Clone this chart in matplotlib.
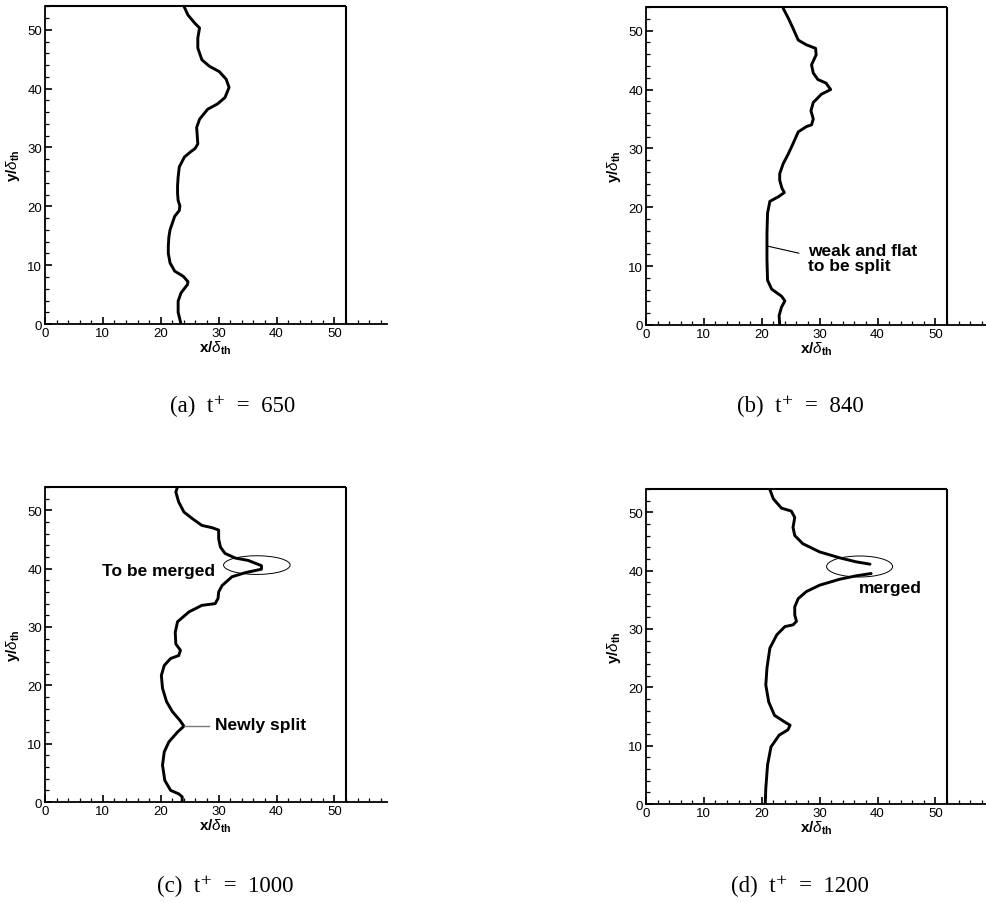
import matplotlib
matplotlib.use("Agg")
import matplotlib.pyplot as plt
from matplotlib.patches import Ellipse
from matplotlib.ticker import MultipleLocator

# ---------------- data ----------------
domain_width = 52
domain_height = 54

# (a) t+ = 650
a_x = [23.5, 23.0, 23.0, 23.5, 24.6, 24.7, 23.9, 22.4, 21.6, 21.3, 21.3, 21.4, 21.6, 22.4,
       23.2, 23.3, 23.0, 22.9, 22.9, 23.0, 23.2, 24.1, 25.2, 25.9, 26.4, 26.3, 26.2, 26.7,
       28.1, 29.8, 31.1, 31.8, 31.3, 30.1, 28.4, 27.1, 26.4, 26.4, 26.7, 25.9, 24.7, 24.0]
a_y = [0.0, 2.0, 3.9, 5.3, 6.7, 7.2, 8.1, 9.0, 10.4, 12.0, 13.2, 14.8, 16.0, 18.3,
       19.3, 20.1, 21.0, 22.2, 23.5, 25.0, 26.7, 28.4, 29.3, 29.8, 30.6, 32.0, 33.4, 34.8,
       36.5, 37.4, 38.5, 40.2, 41.6, 42.9, 43.8, 44.9, 46.9, 48.6, 50.3, 51.1, 52.5, 54.0]

# (b) t+ = 840
b_x = [23.1, 23.0, 23.4, 24.0, 23.4, 21.7, 21.0, 20.9, 20.9, 21.0, 21.4, 22.9, 23.9, 23.5,
       23.1, 23.1, 23.7, 24.6, 25.4, 26.3, 27.7, 28.6, 28.9, 28.5, 28.9, 30.3, 31.9, 31.1,
       29.7, 28.9, 28.6, 29.4, 29.3, 27.7, 26.3, 25.4, 24.6, 23.7]
b_y = [0.0, 1.6, 3.0, 4.1, 4.9, 6.1, 7.6, 11.1, 15.6, 19.0, 21.0, 21.8, 22.5, 23.2,
       24.6, 25.7, 27.4, 29.1, 30.8, 32.8, 33.7, 34.0, 35.0, 36.4, 37.8, 39.2, 40.0, 41.1,
       41.7, 42.8, 44.2, 45.9, 47.0, 47.6, 48.4, 50.4, 52.1, 53.8]

# (c) t+ = 1000
c_x = [23.7, 23.7, 23.1, 21.7, 20.7, 20.3, 20.6, 21.4, 22.9, 24.0, 23.3, 22.0, 21.0, 20.3,
       20.1, 20.6, 21.7, 23.1, 23.4, 22.6, 22.5, 22.9, 24.9, 27.1, 29.4, 29.9, 30.0, 30.6,
       32.3, 34.6, 37.4, 37.4, 35.1, 32.9, 31.1, 30.3, 30.0, 30.0, 28.9, 27.1, 25.4, 24.0,
       23.1, 22.6, 22.9]
c_y = [0.0, 0.9, 1.4, 2.0, 3.7, 6.3, 8.6, 10.3, 12.0, 13.0, 14.0, 15.5, 17.2, 19.5,
       21.7, 23.4, 24.6, 25.1, 26.0, 27.1, 29.1, 30.9, 32.6, 33.7, 34.0, 34.9, 36.0, 37.1,
       38.6, 39.3, 39.9, 40.5, 41.4, 41.8, 42.6, 43.7, 45.1, 46.6, 47.0, 47.4, 48.6, 49.7,
       51.4, 53.1, 54.0]

# (d) t+ = 1200  (two branches that end at the merged tip)
d_lower_x = [20.6, 20.7, 21.0, 21.6, 23.0, 24.5, 24.9, 23.9, 22.2, 21.2, 20.7, 20.9, 21.4,
             22.6, 24.0, 25.4, 26.0, 25.7, 25.7, 26.3, 27.7, 30.0, 33.4, 36.3, 38.9]
d_lower_y = [0.0, 2.7, 6.7, 9.8, 11.8, 12.7, 13.5, 14.1, 15.2, 17.5, 20.4, 23.3, 26.7,
             29.0, 30.4, 30.7, 31.3, 32.4, 33.8, 35.2, 36.4, 37.5, 38.5, 39.1, 39.5]
d_upper_x = [38.7, 36.3, 33.4, 30.0, 27.1, 25.7, 25.4, 25.7, 25.1, 23.4, 22.0, 21.4]
d_upper_y = [41.1, 41.5, 42.2, 43.2, 44.6, 46.0, 47.4, 49.1, 50.2, 50.7, 52.3, 53.9]

captions = ["(a)  t\u207a  =  650", "(b)  t\u207a  =  840",
            "(c)  t\u207a  =  1000", "(d)  t\u207a  =  1200"]
x_ticks = [0, 10, 20, 30, 40, 50]
y_ticks = [0, 10, 20, 30, 40, 50]

# ---------------- style ----------------
plt.rcParams['font.family'] = ['Liberation Sans', 'DejaVu Sans']
plt.rcParams['mathtext.fontset'] = 'custom'
plt.rcParams['mathtext.rm'] = 'Liberation Sans'
plt.rcParams['mathtext.it'] = 'Liberation Sans:italic'
plt.rcParams['mathtext.bf'] = 'Liberation Sans:bold'

fig = plt.figure(figsize=(9.87, 9.03), dpi=100)

positions = {
    'a': [0.0456, 0.640, 0.346, 0.352],
    'b': [0.6545, 0.639, 0.346, 0.352],
    'c': [0.0456, 0.1107, 0.346, 0.349],
    'd': [0.6545, 0.1085, 0.346, 0.349],
}
caption_pos = {'a': (0.236, 0.5504), 'b': (0.8105, 0.5504),
               'c': (0.228, 0.018), 'd': (0.8105, 0.018)}

LW = 2.1


def setup(ax):
    ax.set_xlim(0, 59)
    ax.set_ylim(0, domain_height)
    ax.spines['top'].set_visible(False)
    ax.spines['right'].set_visible(False)
    ax.spines['left'].set_linewidth(1.3)
    ax.spines['bottom'].set_linewidth(1.3)
    # domain boundary (top and right edges)
    ax.plot([0, domain_width], [domain_height, domain_height], color='black', lw=1.5,
            clip_on=False, solid_capstyle='butt')
    ax.plot([domain_width, domain_width], [0, domain_height], color='black', lw=1.5,
            clip_on=False, solid_capstyle='butt')
    ax.set_xticks(x_ticks)
    ax.set_yticks(y_ticks)
    ax.xaxis.set_minor_locator(MultipleLocator(2))
    ax.yaxis.set_minor_locator(MultipleLocator(2))
    ax.tick_params(which='major', direction='in', length=5, width=1.2, labelsize=9.5, pad=2)
    ax.tick_params(which='minor', direction='in', length=3, width=0.9)
    ax.set_xlabel(r'$\mathbf{x/}\delta_{\mathbf{th}}$', fontsize=11, labelpad=0)
    ax.set_ylabel(r'$\mathbf{y/}\delta_{\mathbf{th}}$', fontsize=11, labelpad=4)


axes = {}
for key in ['a', 'b', 'c', 'd']:
    ax = fig.add_axes(positions[key])
    setup(ax)
    axes[key] = ax
    cx, cy = caption_pos[key]
    idx = 'abcd'.index(key)
    fig.text(cx, cy, captions[idx], ha='center', va='center', fontsize=16.5,
             family=['Liberation Serif', 'DejaVu Serif'])

line_kw = dict(color='black', lw=LW, solid_joinstyle='round', solid_capstyle='round')

# (a)
axes['a'].plot(a_x, a_y, **line_kw)

# (b)
axb = axes['b']
axb.plot(b_x, b_y, **line_kw)
axb.plot([21.0, 26.4], [13.4, 12.2], color='black', lw=0.8)
axb.text(28.0, 11.4, "weak and flat\nto be split", fontsize=12.5, fontweight='bold',
         ha='left', va='center', linespacing=0.95)

# (c)
axc = axes['c']
axc.plot(c_x, c_y, **line_kw)
axc.add_patch(Ellipse((36.6, 40.6), 11.5, 3.2, fill=False, edgecolor='black', lw=0.7))
axc.text(29.3, 39.7, "To be merged", fontsize=12.5, fontweight='bold', ha='right',
         va='center')
axc.plot([24.0, 28.4], [13.1, 13.1], color='#777777', lw=1.0)
axc.text(29.4, 13.3, "Newly split", fontsize=12.5, fontweight='bold', ha='left',
         va='center')

# (d)
axd = axes['d']
axd.plot(d_lower_x, d_lower_y, **line_kw)
axd.plot(d_upper_x, d_upper_y, **line_kw)
axd.add_patch(Ellipse((36.9, 40.7), 11.4, 3.6, fill=False, edgecolor='black', lw=0.7))
axd.text(36.7, 37.1, "merged", fontsize=12.5, fontweight='bold', ha='left', va='center')

fig.savefig('out.png', dpi=100)
